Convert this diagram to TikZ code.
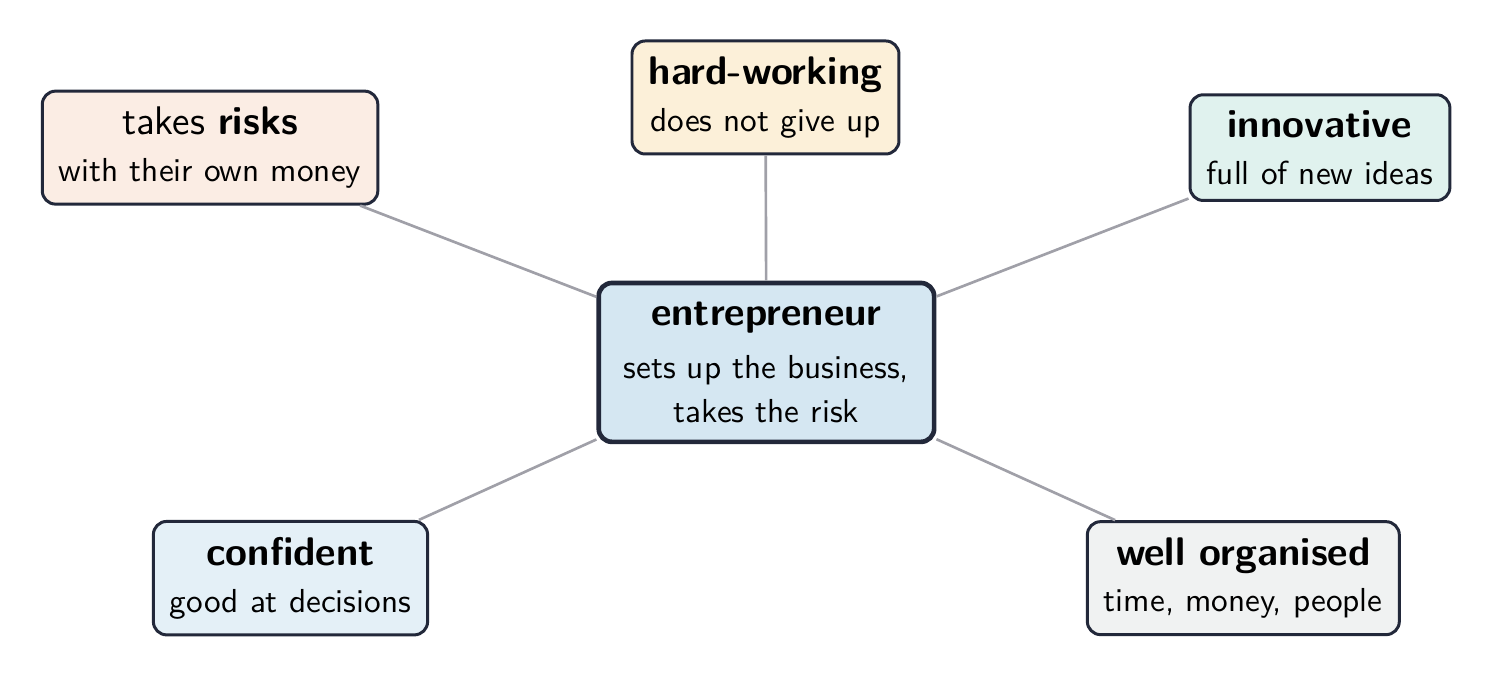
\documentclass[tikz,border=0pt]{standalone}
\definecolor{edgegray}{HTML}{A0A0A8}
\definecolor{boxline}{HTML}{22283A}
\definecolor{fillblue}{HTML}{D5E7F2}
\definecolor{fillrisk}{HTML}{FBEDE4}
\definecolor{fillhard}{HTML}{FCF0D9}
\definecolor{fillnew}{HTML}{E0F2EE}
\definecolor{fillconf}{HTML}{E4F0F7}
\definecolor{fillorg}{HTML}{F0F2F2}
\tikzset{
  trait/.style={draw=boxline, line width=0.9pt, rounded corners=4pt, align=center,
    inner xsep=5pt, inner ysep=4.8pt, font=\sffamily},
  hub/.style={trait, line width=1.4pt, fill=fillblue, inner xsep=7.5pt, inner ysep=5.8pt},
  link/.style={draw=edgegray, line width=0.8pt}
}
\begin{document}
\begin{tikzpicture}
            \useasboundingbox (0,0) rectangle (15.80,-7.157);
            \node[hub] (e) at (8.10,-3.83) {{\large\bfseries entrepreneur}\\[4pt] sets up the business,\\[1pt] takes the risk};
            \node[trait, fill=fillhard] (h) at (8.09,-1.03) {{\large\bfseries hard-working}\\[2pt] does not give up};
            \node[trait, fill=fillrisk] (r) at (2.22,-1.56) {{\large takes \bfseries risks}\\[2pt] with their own money};
            \node[trait, fill=fillnew] (i) at (13.95,-1.56) {{\large\bfseries innovative}\\[2pt] full of new ideas};
            \node[trait, fill=fillconf] (c) at (3.07,-6.11) {{\large\bfseries confident}\\[2pt] good at decisions};
            \node[trait, fill=fillorg] (o) at (13.14,-6.11) {{\large\bfseries well organised}\\[2pt] time, money, people};
            \draw[link] (e) -- (h);
            \draw[link] (e) -- (r);
            \draw[link] (e) -- (i);
            \draw[link] (e) -- (c);
            \draw[link] (e) -- (o);
        \end{tikzpicture}
\end{document}
